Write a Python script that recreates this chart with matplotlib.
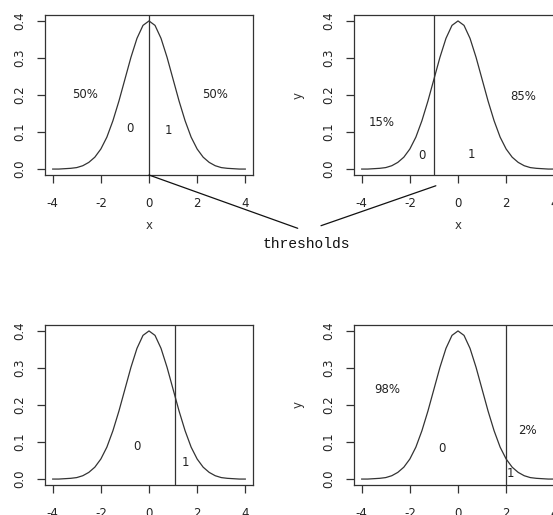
import matplotlib
matplotlib.use("Agg")
import matplotlib.pyplot as plt
from matplotlib.patches import ConnectionPatch

# standard normal density, read at steps of 0.25 (right half, mirrored)
half_x = [0, 0.25, 0.5, 0.75, 1.0, 1.25, 1.5, 1.75, 2.0,
          2.25, 2.5, 2.75, 3.0, 3.25, 3.5, 3.75, 4.0]
half_y = [0.399, 0.387, 0.352, 0.301, 0.242, 0.183, 0.130, 0.086, 0.054,
          0.032, 0.018, 0.009, 0.004, 0.002, 0.001, 0.000, 0.000]
xs = [-v for v in half_x[::-1]] + half_x[1:]
ys = half_y[::-1] + half_y[1:]

thresholds = [0, -1.0, 1.08, 2.0]
labels = [
    [("50%", -2.65, 0.20), ("50%", 2.75, 0.20), ("0", -0.8, 0.11), ("1", 0.8, 0.105)],
    [("15%", -3.15, 0.125), ("85%", 2.7, 0.195), ("0", -1.5, 0.036), ("1", 0.55, 0.038)],
    [("0", -0.5, 0.087), ("1", 1.5, 0.045)],
    [("98%", -2.95, 0.242), ("2%", 2.9, 0.132), ("0", -0.65, 0.081), ("1", 2.17, 0.015)],
]
xticks = [-4, -2, 0, 2, 4]
yticks = [0.0, 0.1, 0.2, 0.3, 0.4]

W, H = 553, 515
fig = plt.figure(figsize=(W / 100, H / 100), dpi=100)

# axes boxes in pixels: left, top
boxes = [(45, 15), (354, 15), (45, 325), (354, 325)]
bw, bh = 208, 160
col = "#333333"

axes = []
for i, (l, t) in enumerate(boxes):
    ax = fig.add_axes([l / W, 1 - (t + bh) / H, bw / W, bh / H])
    ax.plot(xs, ys, color=col, lw=0.9)
    ax.axvline(thresholds[i], color=col, lw=0.9)
    ax.set_xlim(-4.32, 4.32)
    ax.set_ylim(-0.016, 0.415)
    ax.set_xticks(xticks)
    ax.set_xticklabels([str(v) for v in xticks])
    ax.set_yticks(yticks)
    ax.set_yticklabels(["%.1f" % v for v in yticks], rotation=90, va="center")
    ax.tick_params(direction="out", length=5.5, width=0.9, color=col,
                   labelsize=8.5, labelcolor="#222222")
    ax.tick_params(axis="x", pad=10)
    ax.tick_params(axis="y", pad=8)
    for s in ax.spines.values():
        s.set_color(col)
        s.set_linewidth(0.9)
    for txt, tx, ty in labels[i]:
        ax.text(tx, ty, txt, ha="center", va="center", fontsize=8.5, color="#222222")
    if i < 2:
        ax.set_xlabel("x", fontsize=8.5, color="#333333", labelpad=7)
    if i % 2 == 1:
        ax.set_ylabel("y", fontsize=8.5, color="#333333", labelpad=13)
    axes.append(ax)

tx, ty = 306.7 / W, 1 - 244.3 / H
fig.text(tx, ty, "thresholds", family="Liberation Mono", fontsize=10.5,
         ha="center", va="center", color="#111111")

ends = [(297.7 / W, 1 - 228.3 / H), (321 / W, 1 - 225.7 / H)]
starts = [(thresholds[0], -0.016), (thresholds[1] + 0.08, -0.045)]
for k in range(2):
    con = ConnectionPatch(xyA=starts[k], coordsA=axes[k].transData,
                          xyB=ends[k], coordsB=fig.transFigure,
                          color="#111111", lw=0.9)
    fig.add_artist(con)

fig.savefig("out.png", dpi=100)
